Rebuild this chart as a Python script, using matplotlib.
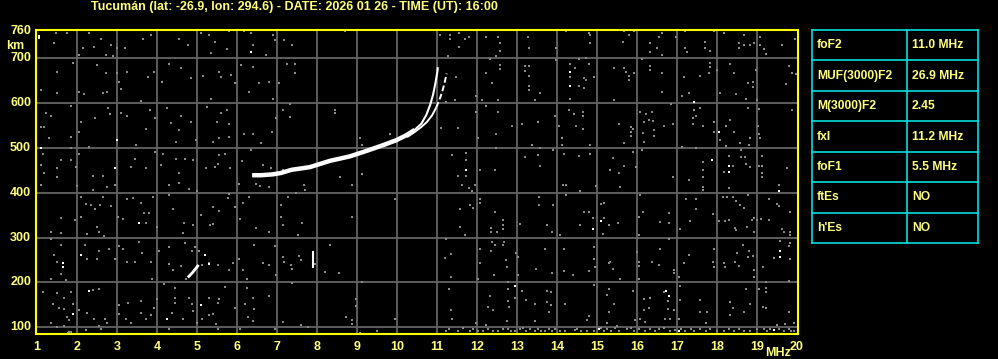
import matplotlib
matplotlib.use("Agg")
import matplotlib.pyplot as plt
import numpy as np

# ---------------- data ----------------
title = "Tucumán (lat: -26.9, lon: 294.6) - DATE: 2026 01 26 - TIME (UT): 16:00"
x_ticks = list(range(1, 21))
y_ticks = [100, 200, 300, 400, 500, 600, 700]
y_top_label = 760

# O-mode trace (MHz, km)
o_f = [6.38, 6.6, 6.9, 7.1, 7.36, 7.82, 8.32, 8.82, 9.23, 9.65, 9.98, 10.23, 10.44, 10.61, 10.73, 10.83, 10.90, 10.96, 11.01, 11.02]
o_h = [439, 439, 441, 444, 451, 457, 471, 481, 493, 506, 517, 528, 540, 554, 573, 596, 618, 644, 670, 680]
# X-mode trace
x_f = [10.25, 10.42, 10.6, 10.75, 10.88, 10.98, 11.06, 11.13, 11.19, 11.24]
x_h = [524, 534, 546, 558, 573, 590, 607, 625, 645, 666]
# small echoes
diag_f = [4.77, 4.89, 4.96, 5.04]
diag_h = [211, 222, 230, 239]
vert_f = [7.9, 7.9]
vert_h = [231, 271]

# table
table_names = ["foF2", "MUF(3000)F2", "M(3000)F2", "fxI", "foF1", "ftEs", "h'Es"]
table_values = ["11.0 MHz", "26.9 MHz", "2.45", "11.2 MHz", "5.5 MHz", "NO", "NO"]

# background noise dots (MHz, km)
noise_a = [
 (1.48,757),(1.74,756),(2.29,757),(2.6,742),(2.85,730),(3.0,722),(3.2,722),(3.64,742),(3.85,752),(4.56,742),
 (4.77,730),(5.1,757),(5.31,752),(5.45,737),(5.74,720),(5.8,761),(6.18,760),(6.35,756),(6.4,730),(6.9,752),
 (6.95,741),(7.18,741),(2.14,722),(2.43,726),(2.73,707),(2.9,705),(2.06,707),(1.43,734),(5.35,711),(6.73,707),
 (1.49,670),(1.89,689),(2.5,684),(2.73,666),(2.99,668),(3.04,646),(3.24,670),(3.77,657),(3.93,670),(4.13,646),
 (4.29,687),(4.6,679),(4.85,655),(5.14,661),(5.56,670),(5.6,659),(5.85,663),(5.96,644),(6.1,685),(6.4,681),
 (6.55,644),(6.8,648),(7.05,644),(7.24,687),(1.1,629),(1.49,622),(2.04,625),(2.18,620),(2.64,623),(2.74,625),
 (3.1,631),(3.6,605),(5.35,610),(6.3,625),(6.9,610),
 (1.23,577),(1.35,571),(1.85,593),(1.1,547),(1.18,547),(2.1,558),(2.46,566),(2.77,588),(2.83,575),(3.1,577),
 (3.24,571),(3.83,584),(3.96,566),(3.73,543),(4.26,590),(4.36,556),(4.56,540),(4.6,571),(4.85,558),(5.24,592),
 (5.49,558),(5.6,577),(5.75,584),(5.8,553),(5.8,525),(5.54,521),(6.18,532),(6.4,531),(6.88,536),(7.14,584),
 (6.98,566),(1.85,525),(1.31,521),(2.06,536),(3.48,507),(4.48,513),(4.98,517),(5.39,513),(6.6,510),
 (1.14,486),(1.85,499),(2.04,486),(2.31,502),(1.6,472),(1.85,472),(1.98,457),(1.1,461),(1.18,443),(1.49,454),
 (1.49,435),(2.39,437),(2.64,437),(3.35,457),(3.45,476),(3.73,454),(3.96,491),(4.1,461),(4.14,486),(4.48,476),
 (4.56,444),(4.71,476),(4.89,472),(5.23,455),(5.44,457),(5.56,484),(5.71,486),(5.83,456),(6.13,471),(6.35,495),
 (6.64,461),(6.85,456),(7.14,450),(5.52,465),
 (1.1,418),(1.6,343),(1.35,313),(1.6,310),(1.99,416),(2.39,405),(2.75,413),(2.95,418),(2.1,390),(2.23,375),
 (2.35,373),(2.46,363),(2.58,373),(2.64,390),(2.85,370),(1.96,340),(2.1,346),(2.26,308),(2.51,323),(2.55,313),
 (2.68,303),(3.02,346),(3.16,342),(3.24,385),(3.39,388),(3.6,378),(3.68,355),(3.79,355),(3.73,333),(3.89,390),
 (3.99,323),(4.31,396),(4.4,364),(4.31,418),(4.56,422),(4.8,409),(5.0,403),(4.68,333),(4.64,310),(4.89,327),
 (5.1,351),(5.39,368),(5.54,360),(5.39,331),(5.33,327),(5.81,398),(5.77,388),(5.94,368),(6.14,378),(6.31,390),
 (6.08,342),(6.48,321),(6.81,312),(7.1,373),(7.27,390),(7.14,328),(7.1,346),(6.04,420),(6.48,420),(6.58,416),
 (6.79,413),
 (1.35,296),(1.6,284),(1.43,261),(1.49,245),(1.6,219),(1.73,206),(1.35,207),(2.21,284),(2.25,252),(2.51,252),
 (2.54,269),(2.79,275),(2.95,252),(3.04,281),(3.16,275),(3.24,246),(3.45,246),(3.56,291),(3.63,266),(3.84,246),
 (3.88,207),(4.05,271),(4.31,278),(4.31,241),(4.4,228),(4.6,237),(4.71,288),(4.88,271),(4.94,278),(5.04,271),
 (5.13,239),(5.31,243),(5.52,239),(5.79,228),(5.91,243),(6.04,252),(6.14,228),(6.26,207),(6.43,284),(6.64,243),
 (6.81,239),(6.95,282),(7.18,246),(6.98,216),(7.14,256),(4.72,208),
 (1.16,179),(1.49,176),(1.67,166),(1.85,179),(1.41,152),(1.54,142),(1.68,140),(1.89,152),(1.74,122),(1.81,116),
 (1.35,110),(1.49,101),(1.68,103),(2.04,139),(2.41,184),(2.54,185),(2.24,131),(2.43,118),(2.71,119),(2.54,103),
 (2.74,110),(3.04,129),(3.06,149),(3.27,155),(3.23,119),(3.35,110),(3.6,159),(3.6,131),(3.73,118),(3.85,127),
 (3.93,142),(3.99,163),(4.18,196),(4.38,131),(4.46,187),(4.46,166),(4.46,155),(4.64,119),(4.81,166),(4.88,152),
 (4.89,137),(5.01,110),(5.13,119),(5.31,127),(5.39,129),(5.52,155),(5.54,164),(5.29,166),(5.71,189),(5.48,107),
 (5.96,142),(6.08,97),(6.21,152),(6.24,187),(6.27,122),(6.39,114),(6.43,140),(6.39,166),(6.81,170),(7.14,112),
 (6.95,96),(5.52,96),(4.31,97),(1.77,88),(2.23,94),(2.6,96),(1.8,89),(1.85,89),
]
noise_b = [
 (7.38,730),(7.44,687),(7.44,666),(7.33,598),(7.33,568),(8.44,584),(8.44,577),(8.69,761),(9.08,521),(9.13,506),
 (9.83,531),(8.58,434),(9.13,441),(11.08,752),(11.33,752),(11.33,742),(11.55,757),(11.69,742),(11.79,748),(11.55,726),
 (11.28,704),(11.48,659),(12.23,748),(12.53,748),(12.57,735),(12.58,715),(12.48,705),(12.33,698),(12.58,685),(12.58,675),
 (13.19,683),(13.3,683),(13.19,672),(13.3,660),(13.3,638),(13.3,628),(13.3,722),(13.28,748),(13.58,622),(12.38,644),
 (12.23,666),(12.13,607),(12.53,607),(13.44,607),(11.98,616),(11.44,607),(11.23,603),(12.23,593),(12.53,581),(11.98,581),
 (12.88,549),(13.13,553),(13.53,558),(11.52,545),(11.11,545),(12.03,523),(12.48,531),(13.38,506),(13.58,499),(12.48,499),
 (11.38,484),(11.73,489),(11.73,472),(11.73,437),(11.52,437),(12.08,450),(12.44,451),(13.19,480),(13.53,484),(13.58,459),
 (7.67,418),(7.69,405),(7.48,400),(8.88,418),(9.94,387),(8.88,346),(7.63,333),(7.53,306),(8.33,284),(7.55,258),
 (7.61,249),(7.36,239),(7.38,230),(7.96,240),(8.19,224),(8.55,221),(9.13,201),(7.38,199),(8.98,163),(8.98,148),
 (8.73,122),(8.88,116),(8.88,107),(9.94,119),(9.08,88),(9.5,92),(7.77,101),(7.6,104),(11.63,418),(11.8,410),
 (11.88,403),(11.94,418),(11.82,372),(11.9,366),(12.08,387),(12.08,378),(11.58,364),(11.58,323),(11.69,306),(12.44,358),
 (12.64,340),(12.64,328),(12.64,319),(12.36,321),(12.36,312),(12.5,312),(13.08,331),(13.55,390),(13.55,372),(11.23,296),
 (11.34,263),(11.19,254),(12.08,275),(12.08,243),(12.38,291),(12.36,271),(12.44,284),(12.64,284),(12.68,291),(12.73,251),
 (12.74,234),(13.03,256),(12.98,266),(13.48,230),(12.42,216),(13.03,216),(12.78,200),(12.78,185),(13.13,181),(12.03,207),
 (11.34,211),(11.29,185),(12.33,170),(12.27,146),(12.41,139),(12.78,159),(12.94,166),(12.8,146),(13.23,161),(13.44,152),
 (11.34,139),(11.38,119),(11.98,110),(12.22,104),(12.75,114),(13.44,114),
]
noise_c = [
 (14.23,761),(14.79,757),(14.83,752),(14.83,735),(15.68,760),(15.64,737),(15.79,752),(15.93,761),(16.33,734),(16.54,748),
 (16.63,757),(16.5,722),(16.33,713),(16.63,707),(16.98,748),(17.21,761),(17.21,722),(17.25,713),(17.69,737),(17.69,722),
 (17.83,715),(17.92,761),(18.18,757),(18.67,752),(18.54,734),(18.67,730),(18.82,730),(18.93,734),(19.08,748),(19.08,730),
 (19.18,720),(19.23,710),(19.63,730),(19.96,742),(18.54,722),(13.98,722),(13.98,696),
 (14.33,687),(14.33,659),(14.54,698),(14.46,679),(14.73,700),(14.79,687),(14.68,655),(14.73,651),(14.93,657),(14.54,638),
 (14.68,634),(14.33,610),(15.43,679),(15.67,679),(15.73,670),(15.79,660),(15.79,651),(15.93,666),(15.43,607),(16.33,683),
 (16.33,674),(16.63,666),(16.63,625),(16.13,698),(17.18,657),(17.13,616),(17.29,622),(17.58,660),(17.79,666),(17.83,690),
 (17.83,681),(18.0,674),(18.33,687),(18.43,666),(18.08,622),(18.48,621),(18.73,610),(18.78,644),(18.9,646),(18.9,635),
 (19.0,607),(18.98,674),(19.79,683),(19.88,668),(19.73,643),(19.98,664),
 (13.94,571),(14.29,584),(14.43,575),(14.65,580),(14.65,571),(14.04,549),(14.48,549),(14.65,543),(14.13,521),(14.13,506),
 (14.18,486),(14.54,481),(14.83,506),(14.83,486),(15.54,553),(15.68,511),(15.85,547),(15.85,536),(15.85,526),(15.9,541),
 (16.08,581),(16.23,575),(16.29,562),(16.38,581),(16.4,560),(16.18,558),(16.15,534),(16.18,513),(16.43,540),(16.43,526),
 (16.68,549),(16.86,598),(16.9,553),(17.13,501),(17.43,584),(17.4,566),(17.48,571),(17.58,590),(17.65,549),(17.4,553),
 (17.93,558),(17.93,536),(18.07,517),(18.23,549),(18.33,562),(18.43,536),(18.23,504),(18.58,511),(18.83,523),(18.79,506),
 (18.77,590),(19.04,586),(19.02,549),(19.04,532),(19.08,523),(19.88,584),
 (13.9,495),(15.4,478),(15.33,451),(15.68,459),(15.54,444),(15.98,457),(15.9,491),(16.13,495),(16.9,434),(17.29,428),
 (17.48,499),(17.65,469),(17.65,451),(17.65,435),(18.17,446),(18.29,481),(18.4,459),(18.6,496),(18.6,480),(18.71,480),
 (18.73,465),(18.83,457),(19.04,459),(19.13,481),(19.13,459),(19.13,444),(19.13,434),(19.75,456),
 (14.14,418),(14.23,418),(14.23,396),(14.98,415),(15.58,413),(13.9,373),(14.58,403),(15.1,375),(15.18,378),(14.9,343),
 (15.17,343),(15.15,308),(15.29,328),(15.52,333),(13.75,328),(13.88,313),(14.08,306),(14.58,328),(14.67,358),(14.79,358),
 (16.08,396),(16.04,346),(16.15,358),(16.04,306),(16.58,334),(16.79,355),(16.79,333),(16.79,296),(17.08,319),(17.23,387),
 (17.48,387),(17.48,364),(17.33,336),(17.65,413),(17.65,405),(17.9,353),(18.04,336),(18.21,338),(18.29,340),(18.15,390),
 (18.25,390),(18.4,390),(18.48,381),(18.58,373),(18.68,366),(18.29,410),(18.77,396),(18.88,340),(18.93,343),(19.0,340),
 (19.1,342),(19.29,340),(18.75,323),(18.93,312),(18.48,316),(18.46,321),(19.54,418),(19.5,375),(19.54,370),(19.29,387),
 (19.83,358),(19.63,319),(19.68,312),(19.83,313),(19.83,306),
 (13.7,275),(14.18,275),(13.88,221),(14.18,226),(14.4,216),(14.79,226),(14.93,278),(14.93,252),(14.95,234),(15.29,243),
 (15.33,246),(15.4,230),(15.58,207),(16.0,267),(16.04,245),(16.04,236),(16.04,207),(16.38,246),(16.54,239),(16.58,275),
 (16.93,228),(16.93,221),(17.04,211),(17.18,243),(17.29,261),(17.92,275),(17.9,246),(17.93,234),(18.17,243),(18.21,234),
 (18.46,246),(18.5,266),(18.54,237),(18.65,284),(18.77,256),(18.79,269),(18.9,259),(18.93,228),(18.93,213),(19.15,234),
 (19.23,201),(19.42,254),(19.58,293),(19.79,281),(19.83,287),(19.83,252),(19.79,204),
 (13.76,181),(13.86,179),(13.74,157),(13.86,149),(13.81,134),(14.21,152),(14.75,116),(14.79,124),(14.93,194),(15.25,172),
 (15.29,185),(15.43,152),(15.29,133),(15.25,110),(15.5,103),(15.9,181),(16.18,163),(16.33,166),(16.18,139),(16.31,142),
 (16.08,119),(15.96,116),(16.21,112),(16.68,178),(16.77,159),(16.77,140),(16.71,119),(16.83,119),(16.93,139),(17.04,119),
 (17.08,161),(17.08,193),(17.58,161),(17.58,134),(17.75,134),(17.73,110),(18.33,157),(18.4,142),(18.33,127),(18.67,133),
 (18.73,185),(18.82,152),(19.04,185),(19.23,187),(19.23,178),(19.15,146),(19.23,142),(19.5,104),(19.71,107),(19.79,134),
 (19.93,110),
]
noise_floor = [
 (11.23,92),(11.3,96),(11.52,92),(11.66,99),(11.82,92),(12.03,92),(12.28,96),(12.4,92),(12.53,92),(12.65,96),
 (12.78,96),(12.85,92),(13.07,96),(13.23,92),(13.32,96),(13.44,92),(13.53,96),(13.61,92),(13.71,92),(13.79,96),
 (13.88,92),(13.96,96),(14.08,92),(14.46,94),(14.5,96),(14.75,92),(14.92,92),(15.17,92),(15.25,96),(15.46,99),
 (15.54,92),(15.75,96),(15.92,92),(16.04,96),(16.21,92),(16.33,96),(16.54,96),(16.67,99),(16.82,92),(16.96,94),
 (17.21,92),(17.42,92),(17.58,96),(17.73,92),(17.83,96),(18.0,92),(18.17,92),(18.42,92),(18.67,92),(18.83,92),
 (19.0,96),(19.17,96),(19.33,96),(19.54,96),(19.67,92),(19.79,96),(19.92,92),(11.9,96),(12.15,92),(12.95,92),
 (13.15,99),(14.2,92),(14.6,92),(15.1,99),(15.35,92),(15.85,99),(16.45,92),(17.1,96),(17.35,96),(18.3,96),
 (18.55,96),(19.25,92),(19.85,92),
]
bright_dots = [
 (1.05,744),(1.05,749),(6.35,713),(3.0,517),(1.1,499),(2.95,454),(1.64,243),(1.64,234),(2.1,261),(3.54,333),
 (5.2,261),(2.29,181),(1.89,129),(4.24,119),(5.1,149),(11.73,451),(14.33,670),(14.33,639),(17.43,603),(18.04,536),
 (17.88,472),(18.29,459),(18.29,446),(12.94,193),(15.1,336),(14.9,318),(16.73,181),(16.79,170),(19.54,403),(19.58,269),
 (19.58,256),(15.04,96),(17.04,92),(19.43,94),(5.3,240),
]

# ---------------- drawing ----------------
W, H = 998, 359
fig = plt.figure(figsize=(W / 100, H / 100), dpi=100, facecolor="black")
plt.rcParams["font.family"] = ["Liberation Sans", "DejaVu Sans"]

TXT = "#ffff80"
BORDER = "#ffff00"
GRID = "#646464"
NOISE = "#8a8a8a"

ax = fig.add_axes([36 / W, 1 - 333.5 / H, (798 - 36) / W, (333.5 - 29.5) / H])
ax.set_facecolor("black")
ax.set_xlim(1 - 1 / 40, 20 + 1 / 40)
ax.set_ylim(86, 764)

for f in range(2, 20):
    ax.axvline(f, color=GRID, lw=1.3, zorder=1)
for h in y_ticks:
    ax.axhline(h, color=GRID, lw=1.3, zorder=1)

ms = 4.0
for pts in (noise_a, noise_b, noise_c, noise_floor):
    arr = np.array(pts)
    ax.scatter(arr[:, 0], arr[:, 1], s=ms, marker="s", color=NOISE, linewidths=0, zorder=2)
arr = np.array(bright_dots)
ax.scatter(arr[:, 0], arr[:, 1], s=ms, marker="s", color="white", linewidths=0, zorder=3)

# traces
ax.plot(o_f, o_h, color="white", lw=1.5, solid_capstyle="butt", zorder=4)
ax.plot(o_f[:13], o_h[:13], color="white", lw=3.2, solid_capstyle="butt", zorder=4)
ax.plot(x_f[:6], x_h[:6], color="white", lw=1.4, solid_capstyle="butt", zorder=4)
ax.plot(x_f[5:], x_h[5:], color="white", lw=1.4, dashes=(3, 1.5), zorder=4)
ax.plot(diag_f, diag_h, color="white", lw=2.0, solid_capstyle="butt", zorder=4)
ax.plot(vert_f, vert_h, color="white", lw=1.5, solid_capstyle="butt", zorder=4)

for s in ax.spines.values():
    s.set_color(BORDER)
    s.set_linewidth(1.5)
ax.set_xticks([])
ax.set_yticks([])

# tick labels placed through the axes transforms
fs = 9
for f in x_ticks:
    ax.text(f, -0.025, str(f), transform=ax.get_xaxis_transform(), ha="center", va="top",
            color=TXT, fontsize=fs, fontweight="bold")
for h in y_ticks + [y_top_label]:
    ax.text(-0.0065, h, str(h), transform=ax.get_yaxis_transform(), ha="right", va="center",
            color=TXT, fontsize=fs, fontweight="bold")
fig.text(15 / W, 1 - 46 / H, "km", ha="center", va="center", color=TXT, fontsize=fs, fontweight="bold")
fig.text(791 / W, 1 - 353 / H, "MHz", ha="right", va="center", color=TXT, fontsize=fs, fontweight="bold")

fig.text(294 / W, 1 - 7 / H, title, ha="center", va="center", color=TXT, fontsize=9, fontweight="bold")

# table
tax = fig.add_axes([812 / W, 1 - 243 / H, (978 - 812) / W, (243 - 30) / H])
tax.set_xlim(0, 1)
tax.set_ylim(len(table_names), 0)
tax.axis("off")
CYAN = "#00e0e0"
col_split = (907 - 812) / (978 - 812)
for i in range(len(table_names) + 1):
    tax.plot([0, 1], [i, i], color=CYAN, lw=1.2, clip_on=False)
for xx in (0, col_split, 1):
    tax.plot([xx, xx], [0, len(table_names)], color=CYAN, lw=1.2, clip_on=False)
for i, (n, v) in enumerate(zip(table_names, table_values)):
    tax.text(0.03, i + 0.5, n, ha="left", va="center", color=TXT, fontsize=8.7, fontweight="bold")
    tax.text(col_split + 0.03, i + 0.5, v, ha="left", va="center", color=TXT, fontsize=8.7, fontweight="bold")

fig.savefig("out.png", dpi=100, facecolor="black")
